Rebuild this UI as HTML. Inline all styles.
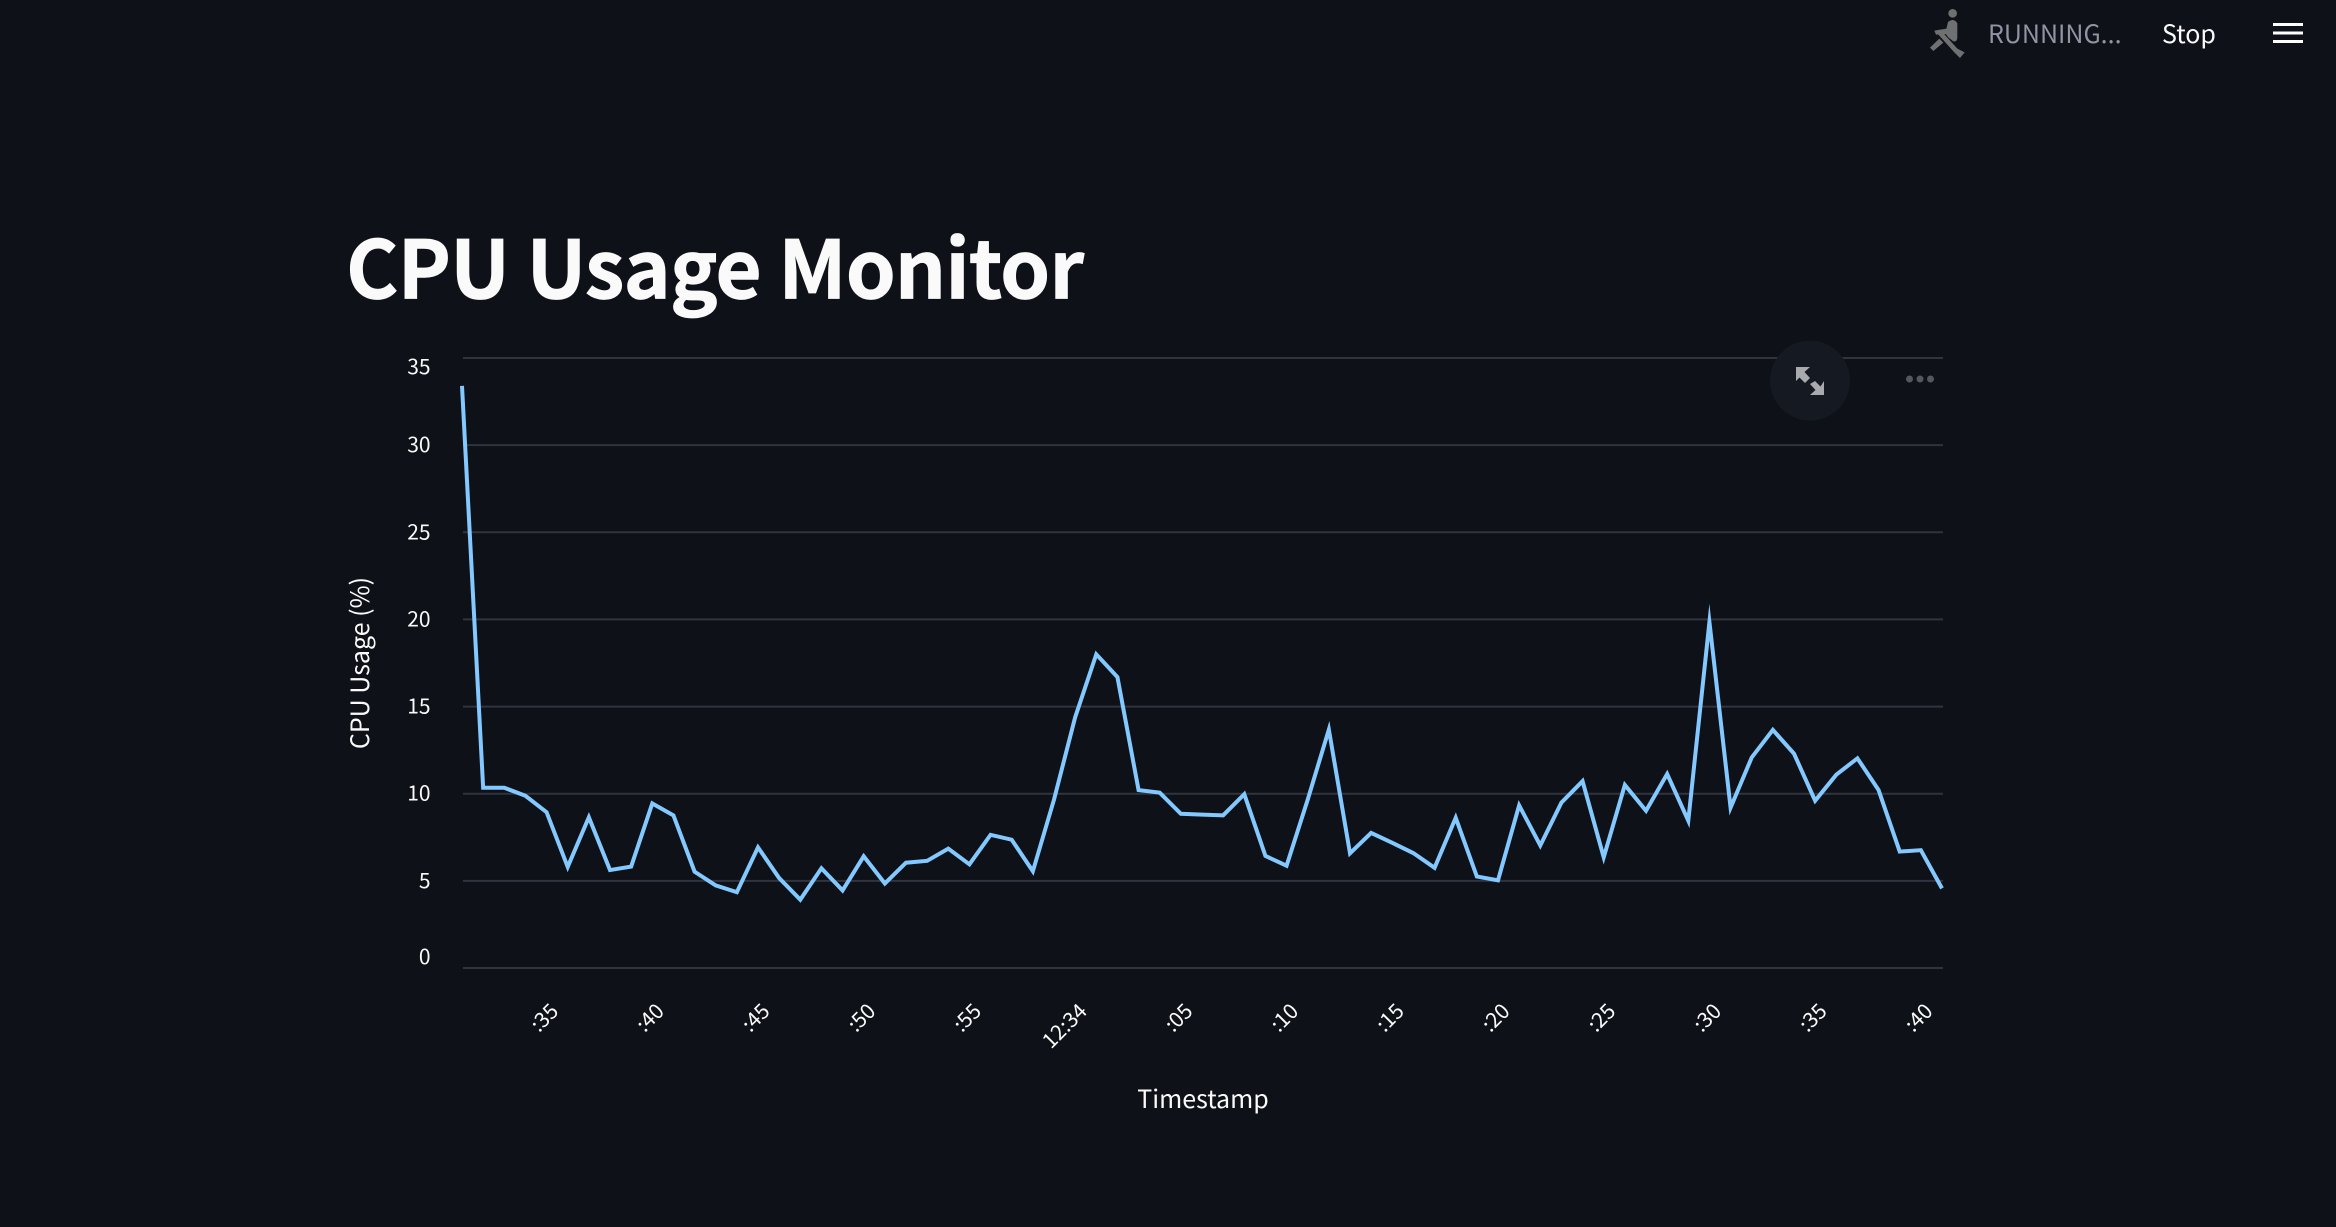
<!DOCTYPE html>
<html lang="en">
<head>
<meta charset="utf-8">
<title>CPU Usage Monitor</title>
<style>
html,body{margin:0;padding:0;width:2336px;height:1227px;background:#0e1117;overflow:hidden}
svg{display:block;position:absolute;left:0;top:0}
text{font-family:"Noto Sans CJK JP","Liberation Sans",sans-serif;fill:#fafafa}
</style>
</head>
<body>
<svg id="page" width="2336" height="1227" viewBox="0 0 2336 1227">
  <g>
    <g transform="translate(1880,0) scale(0.3333)" fill="#6f7072" stroke="none">
      <circle cx="218" cy="40" r="13"/>
      <path d="M204 66 Q222 52 232 70 L232 112 Q232 126 220 124 L205 112 L196 100 Z"/>
      <path d="M163 92 L200 86 L205 102 L168 104 Z"/>
      <path d="M168 96 L180 88 L232 146 L254 157 L240 174 L222 156 Z"/>
      <path d="M150 143 L178 116 L190 128 L160 153 Z"/>
    </g>
    <text x="1988" y="43" font-size="25" style="fill:#9094a3">RUNNING...</text>
    <text x="2162" y="43" font-size="25">Stop</text>
    <g fill="#ffffff">
      <rect x="2273" y="23" width="30" height="3"/>
      <rect x="2273" y="31.5" width="30" height="3"/>
      <rect x="2273" y="40" width="30" height="3"/>
    </g>
  </g>
  <text x="346" y="298.500" font-size="80" font-weight="700" letter-spacing="-0.85" stroke="#fafafa" stroke-width="0.7">CPU Usage Monitor</text>
  <g id="chart"></g>
  <g>
    <circle cx="1810" cy="380.6" r="40" fill="#151922"/>
    <g fill="#a9aaad">
      <path d="M1796 367 L1810 367 L1804.500 372 L1810 378 L1805 383 L1799.500 377.500 L1796 381 Z"/>
      <path d="M1824 395 L1810 395 L1815.500 390 L1810 384 L1815 381 L1820.500 386.500 L1824 381 Z"/>
    </g>
    <g fill="#55575c">
      <circle cx="1909.500" cy="379" r="3.500"/>
      <circle cx="1920" cy="379" r="3.500"/>
      <circle cx="1930.500" cy="379" r="3.500"/>
    </g>
  </g>
</svg>
<script>
const timestamps = ["12:33:30","12:33:31","12:33:32","12:33:33","12:33:34","12:33:35","12:33:36","12:33:37","12:33:38","12:33:39","12:33:40","12:33:41","12:33:42","12:33:43","12:33:44","12:33:45","12:33:46","12:33:47","12:33:48","12:33:49","12:33:50","12:33:51","12:33:52","12:33:53","12:33:54","12:33:55","12:33:56","12:33:57","12:33:58","12:33:59","12:34:00","12:34:01","12:34:02","12:34:03","12:34:04","12:34:05","12:34:06","12:34:07","12:34:08","12:34:09","12:34:10","12:34:11","12:34:12","12:34:13","12:34:14","12:34:15","12:34:16","12:34:17","12:34:18","12:34:19","12:34:20","12:34:21","12:34:22","12:34:23","12:34:24","12:34:25","12:34:26","12:34:27","12:34:28","12:34:29","12:34:30","12:34:31","12:34:32","12:34:33","12:34:34","12:34:35","12:34:36","12:34:37","12:34:38","12:34:39","12:34:40"];
const cpuUsage = [33.4,10.34,10.34,9.88,8.94,5.8,8.65,5.62,5.82,9.44,8.76,5.53,4.74,4.35,6.92,5.16,3.92,5.72,4.45,6.41,4.85,6.04,6.15,6.85,5.95,7.64,7.36,5.55,9.66,14.38,18.0,16.69,10.21,10.06,8.85,8.8,8.76,9.97,6.43,5.87,9.66,13.68,6.58,7.75,7.18,6.59,5.75,8.62,5.25,5.03,9.33,7.03,9.49,10.72,6.35,10.5,9.02,11.13,8.45,19.85,9.2,12.08,13.66,12.3,9.6,11.09,12.03,10.21,6.68,6.76,4.57];
const yTicks = [0,5,10,15,20,25,30,35];
const xTickTimes = ["12:33:35","12:33:40","12:33:45","12:33:50","12:33:55","12:34:00","12:34:05","12:34:10","12:34:15","12:34:20","12:34:25","12:34:30","12:34:35","12:34:40"];
const xTickLabels = [":35",":40",":45",":50",":55","12:34",":05",":10",":15",":20",":25",":30",":35",":40"];

const NS = "http://www.w3.org/2000/svg";
const chart = document.getElementById("chart");
const plot = {left: 462, right: 1942, gridLeft: 463, gridRight: 1943, top: 358, bottom: 968};
function toSeconds(t) {
  const p = t.split(":").map(Number);
  return p[0] * 3600 + p[1] * 60 + p[2];
}
const t0 = toSeconds(timestamps[0]);
const t1 = toSeconds(timestamps[timestamps.length - 1]);
function xScale(t) {
  return plot.left + (toSeconds(t) - t0) / (t1 - t0) * (plot.right - plot.left);
}
function yScale(v) {
  return plot.bottom - v / 35 * (plot.bottom - plot.top);
}
function make(tag) {
  return document.createElementNS(NS, tag);
}
yTicks.forEach(function (v, i) {
  const line = make("line");
  
  
  line.setAttribute("x1", plot.gridLeft);
  line.setAttribute("x2", plot.gridRight);
  line.setAttribute("y1", yScale(v));
  line.setAttribute("y2", yScale(v));
  line.setAttribute("stroke", "#31333f");
  line.setAttribute("stroke-width", "2");
  chart.appendChild(line);
  const label = make("text");
  
  
  let dy = 7;
  if (i === 0) dy = -4;
  if (i === yTicks.length - 1) dy = 16;
  label.setAttribute("x", 430.5);
  label.setAttribute("y", yScale(v) + dy);
  label.setAttribute("text-anchor", "end");
  label.setAttribute("font-size", "21");
  label.textContent = String(v);
  chart.appendChild(label);
});
xTickTimes.forEach(function (t, i) {
  const label = make("text");
  
  
  const x = xScale(t) - 8;
  const y = 1012.5;
  label.setAttribute("x", x);
  label.setAttribute("y", y);
  label.setAttribute("text-anchor", "end");
  label.setAttribute("font-size", "21");
  label.setAttribute("transform", "rotate(-45 " + x + " " + y + ")");
  label.textContent = xTickLabels[i];
  chart.appendChild(label);
});
const series = make("polyline");


series.setAttribute("points", cpuUsage.map(function (v, i) {
  return xScale(timestamps[i]) + "," + yScale(v);
}).join(" "));
series.setAttribute("fill", "none");
series.setAttribute("stroke", "#83c9ff");
series.setAttribute("stroke-width", "4");
series.setAttribute("stroke-linejoin", "miter");
series.setAttribute("stroke-miterlimit", "10");
chart.appendChild(series);
const xTitle = make("text");


xTitle.setAttribute("x", 1203);
xTitle.setAttribute("y", 1108);
xTitle.setAttribute("text-anchor", "middle");
xTitle.setAttribute("font-size", "25");
xTitle.textContent = "Timestamp";
chart.appendChild(xTitle);
const yTitle = make("text");


yTitle.setAttribute("x", 369);
yTitle.setAttribute("y", 663);
yTitle.setAttribute("text-anchor", "middle");
yTitle.setAttribute("font-size", "25");
yTitle.setAttribute("transform", "rotate(-90 369 663)");
yTitle.textContent = "CPU Usage (%)";
chart.appendChild(yTitle);
</script>
</body>
</html>
